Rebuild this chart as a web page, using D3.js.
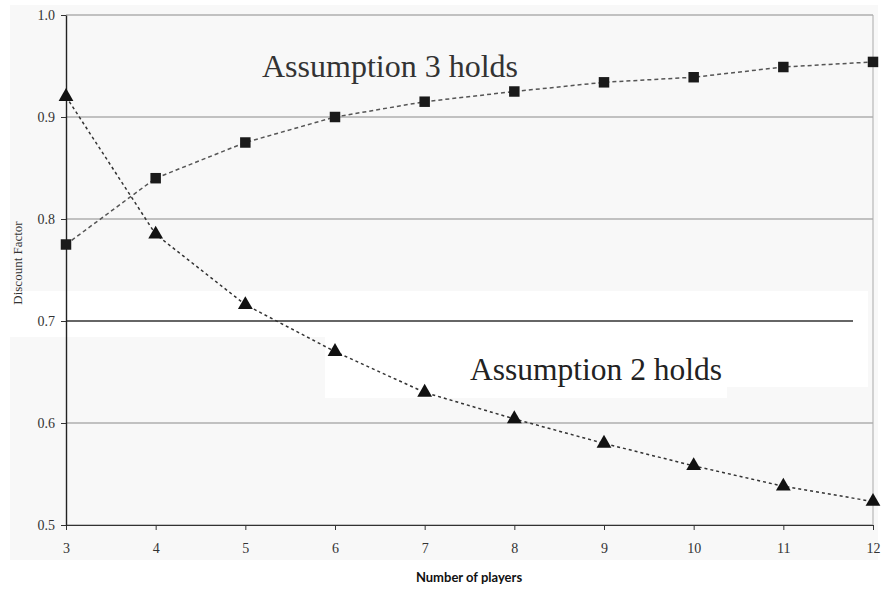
<!DOCTYPE html>
<html>
<head>
<meta charset="utf-8">
<script src="https://cdn.jsdelivr.net/npm/d3@7"></script>
<style>
  body { margin: 0; background: #fff; }
  svg { display: block; }
  .serif { font-family: "Liberation Serif", "DejaVu Serif", Times, serif; }
</style>
</head>
<body>
<div id="chart"></div>
<script>
// data
const players = [3, 4, 5, 6, 7, 8, 9, 10, 11, 12];
const assumption3 = [0.775, 0.840, 0.875, 0.900, 0.915, 0.925, 0.934, 0.939, 0.949, 0.954];
const assumption2 = [0.920, 0.785, 0.716, 0.670, 0.630, 0.604, 0.580, 0.558, 0.538, 0.523];
const yTickValues = [0.5, 0.6, 0.7, 0.8, 0.9, 1.0];

const width = 882, height = 591;
const margin = { top: 15, right: 9, bottom: 66, left: 66 };

const svg = d3.select("#chart")
    .append("svg")
    .attr("width", width)
    .attr("height", height);

// scanned page tone
svg.append("rect")
    .attr("x", 10).attr("y", 5)
    .attr("width", 868).attr("height", 555)
    .attr("fill", "#f8f8f8");

const x = d3.scaleLinear()
    .domain([3, 12])
    .range([margin.left, width - margin.right]);

const y = d3.scaleLinear()
    .domain([0.5, 1.0])
    .range([height - margin.bottom, margin.top]);

// white scan patches
const patches = [
    [10, 291, 858, 46],
    [325, 337, 543, 50],
    [325, 387, 402, 11]
];
svg.selectAll("rect.patch")
    .data(patches)
    .join("rect")
    .attr("class", "patch")
    .attr("x", d => d[0]).attr("y", d => d[1])
    .attr("width", d => d[2]).attr("height", d => d[3])
    .attr("fill", "#ffffff");

// gridlines
svg.append("g")
    .selectAll("line")
    .data(yTickValues)
    .join("line")
    .attr("x1", margin.left)
    .attr("x2", d => d === 0.7 ? width - 29 : width - margin.right)
    .attr("y1", d => y(d))
    .attr("y2", d => y(d))
    .attr("stroke", d => d === 0.7 ? "#333" : "#8a8a8a")
    .attr("stroke-width", d => d === 0.7 ? 1.6 : 1);

// right border
svg.append("line")
    .attr("x1", width - margin.right).attr("x2", width - margin.right)
    .attr("y1", margin.top).attr("y2", height - margin.bottom)
    .attr("stroke", "#aaa")
    .attr("stroke-width", 1);

// axes
const xAxis = g => g
    .attr("transform", `translate(0,${height - margin.bottom})`)
    .call(d3.axisBottom(x).tickValues(players).tickFormat(d3.format("d")).tickSize(5).tickSizeOuter(0).tickPadding(13))
    .attr("font-family", null)
    .call(g => g.select(".domain").attr("stroke", "#333").attr("stroke-width", 1.2))
    .call(g => g.selectAll(".tick line").attr("stroke", "#333"))
    .call(g => g.selectAll(".tick text")
        .attr("class", "serif")
        .attr("font-size", 14)
        .attr("fill", "#333"));

const yAxis = g => g
    .attr("transform", `translate(${margin.left},0)`)
    .call(d3.axisLeft(y).tickValues(yTickValues).tickFormat(d3.format(".1f")).tickSize(5).tickSizeOuter(0).tickPadding(6))
    .attr("font-family", null)
    .call(g => g.select(".domain").attr("stroke", "#222").attr("stroke-width", 1.4))
    .call(g => g.selectAll(".tick line").attr("stroke", "#333"))
    .call(g => g.selectAll(".tick text")
        .attr("class", "serif")
        .attr("font-size", 14)
        .attr("fill", "#333"));

svg.append("g").call(xAxis);
svg.append("g").call(yAxis);

// series
const line = d3.line()
    .x((d, i) => x(players[i]))
    .y(d => y(d));

svg.append("path")
    .datum(assumption3)
    .attr("d", line)
    .attr("fill", "none")
    .attr("stroke", "#555")
    .attr("stroke-width", 1.5)
    .attr("stroke-dasharray", "4,3");

svg.append("path")
    .datum(assumption2)
    .attr("d", line)
    .attr("fill", "none")
    .attr("stroke", "#333")
    .attr("stroke-width", 1.5)
    .attr("stroke-dasharray", "3,3");

svg.append("g")
    .selectAll("path")
    .data(assumption3)
    .join("path")
    .attr("transform", (d, i) => `translate(${x(players[i])},${y(d)})`)
    .attr("d", d3.symbol(d3.symbolSquare, 110))
    .attr("fill", "#1a1a1a");

svg.append("g")
    .selectAll("path")
    .data(assumption2)
    .join("path")
    .attr("transform", (d, i) => `translate(${x(players[i])},${y(d)})`)
    .attr("d", d3.symbol(d3.symbolTriangle, 95))
    .attr("fill", "#111");

// annotations
svg.append("text")
    .attr("class", "serif")
    .attr("x", 262).attr("y", 77)
    .attr("font-size", 32)
    .attr("fill", "#333")
    .text("Assumption 3 holds");

svg.append("text")
    .attr("class", "serif")
    .attr("x", 470).attr("y", 380)
    .attr("font-size", 31.5)
    .attr("fill", "#222")
    .text("Assumption 2 holds");

// axis titles
svg.append("text")
    .attr("class", "serif")
    .attr("transform", `translate(22,${263}) rotate(-90)`)
    .attr("text-anchor", "middle")
    .attr("font-size", 13)
    .attr("fill", "#333")
    .text("Discount Factor");

svg.append("text")
    .attr("x", 469).attr("y", 582)
    .attr("text-anchor", "middle")
    .style("font-family", "Lato, 'DejaVu Sans', sans-serif")
    .attr("font-size", 13)
    .attr("font-weight", "bold")
    .attr("fill", "#111")
    .text("Number of players");
</script>
</body>
</html>
